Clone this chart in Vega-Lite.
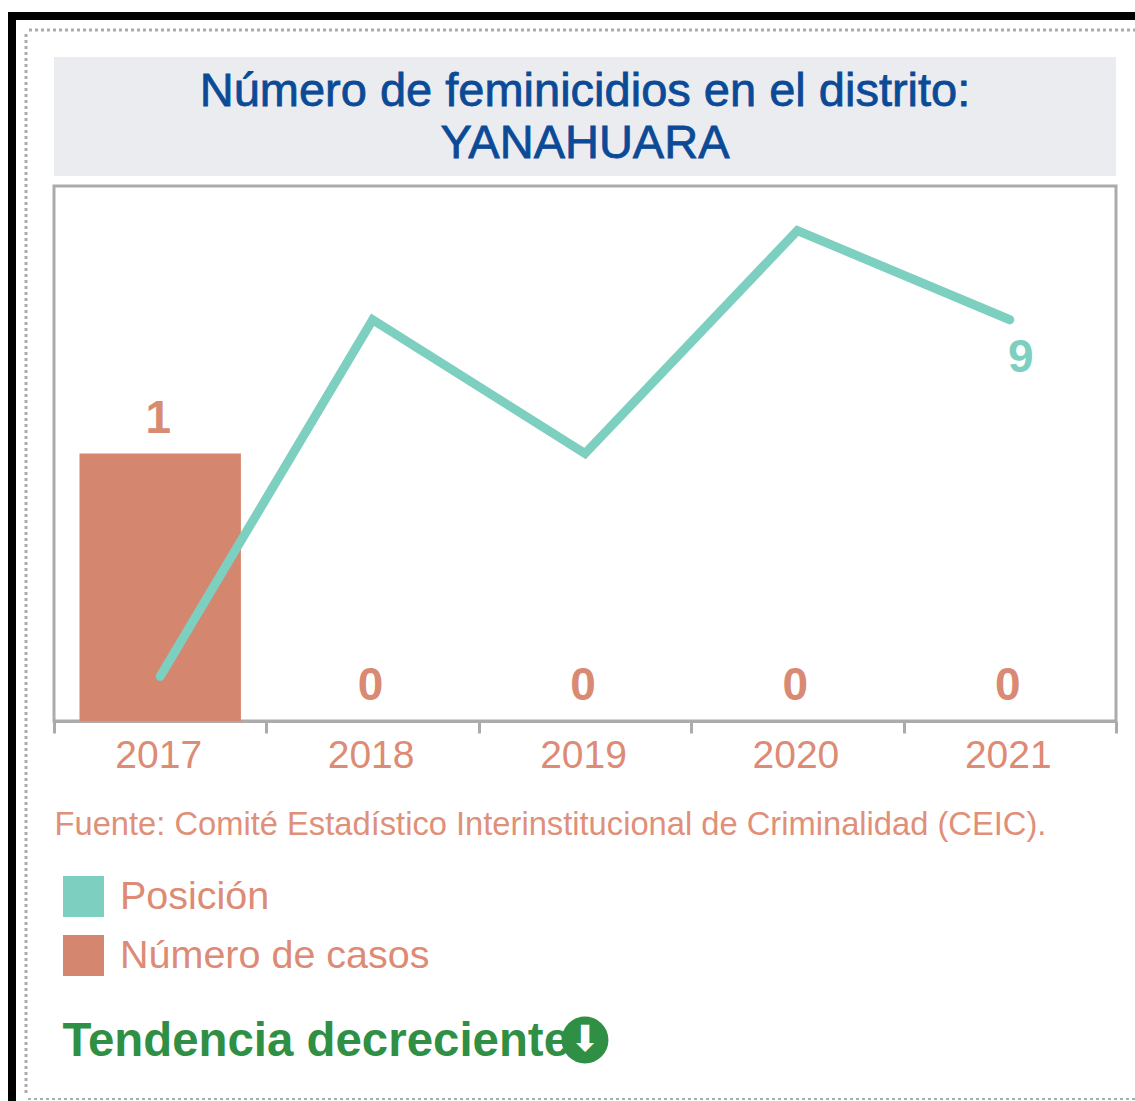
{"$schema":"https://vega.github.io/schema/vega-lite/v6.json","padding":{"left":8,"top":12,"right":0,"bottom":0},"background":"white","spacing":0,"config":{"view":{"stroke":null},"concat":{"spacing":0},"font":"Liberation Sans"},"datasets":{"anual":[{"anio":"2017","casos":1,"posicion":1},{"anio":"2018","casos":0,"posicion":9},{"anio":"2019","casos":0,"posicion":6},{"anio":"2020","casos":0,"posicion":11},{"anio":"2021","casos":0,"posicion":9}],"ultimo":[{"anio":"2021","posicion":9}],"one":[{"k":1}]},"vconcat":[{"width":1127,"height":8,"data":{"name":"one"},"mark":{"type":"text","text":"","fontSize":1},"encoding":{},"view":{"fill":"#000000","stroke":null}},{"spacing":0,"hconcat":[{"width":8,"height":1081,"data":{"name":"one"},"mark":{"type":"text","text":"","fontSize":1},"encoding":{},"view":{"fill":"#000000","stroke":null}},{"spacing":0,"vconcat":[{"width":10,"height":7.5,"data":{"name":"one"},"mark":{"type":"text","text":"","fontSize":1},"encoding":{}},{"spacing":0,"hconcat":[{"width":7.5,"height":1,"data":{"name":"one"},"mark":{"type":"text","text":"","fontSize":1},"encoding":{}},{"width":1110,"height":1,"data":{"name":"one"},"mark":{"type":"rule","stroke":"#ababab","strokeWidth":3,"strokeDash":[3,3]},"encoding":{"y":{"datum":0,"axis":null}}}]},{"spacing":0,"hconcat":[{"width":7.5,"height":10,"data":{"name":"one"},"mark":{"type":"text","text":"","fontSize":1},"encoding":{}},{"width":1,"height":1062,"data":{"name":"one"},"mark":{"type":"rule","stroke":"#ababab","strokeWidth":3,"strokeDash":[3,3]},"encoding":{"x":{"datum":0,"axis":null}}},{"width":22.5,"height":10,"data":{"name":"one"},"mark":{"type":"text","text":"","fontSize":1},"encoding":{}},{"spacing":0,"vconcat":[{"width":10,"height":22.5,"data":{"name":"one"},"mark":{"type":"text","text":"","fontSize":1},"encoding":{}},{"width":1062,"height":119,"view":{"fill":"#ebecf0","stroke":null},"data":{"name":"one"},"mark":{"type":"text","text":"Número de feminicidios en el distrito:\nYANAHUARA","lineBreak":"\n","lineHeight":52,"fontSize":47,"fill":"#0b4a96","stroke":"#0b4a96","strokeWidth":0.8,"align":"center","baseline":"middle","dy":-25},"encoding":{}},{"width":10,"height":8,"data":{"name":"one"},"mark":{"type":"text","text":"","fontSize":1},"encoding":{}},{"width":1062,"height":535,"view":{"stroke":"#ababab","strokeWidth":3},"data":{"name":"anual"},"encoding":{"x":{"field":"anio","type":"nominal","scale":{"paddingInner":0,"paddingOuter":0},"axis":{"labelAngle":0,"labelFontSize":39,"labelColor":"#dd8b74","labelPadding":3,"labelOffset":-2,"labelFont":"Liberation Sans","domainColor":"#ababab","domainWidth":3,"tickColor":"#ababab","tickWidth":3,"tickSize":12,"tickBand":"extent","title":"Fuente: Comité Estadístico Interinstitucional de Criminalidad (CEIC).","titleFontSize":32.7,"titleFontWeight":"normal","titleColor":"#e08f78","titleAnchor":"start","titleAlign":"left","titleBaseline":"alphabetic","titleX":0,"titleY":113,"titleLimit":1100}}},"layer":[{"layer":[{"mark":{"type":"bar","width":{"band":0.76}},"encoding":{"y":{"field":"casos","type":"quantitative","scale":{"domain":[0,2]},"axis":null},"color":{"datum":"Número de casos","scale":{"domain":["Posición","Número de casos"],"range":["#7dcfbf","#d5866e"]},"legend":{"orient":"none","legendX":55,"legendY":864,"title":null,"padding":0,"symbolType":"square","symbolSize":1681,"symbolStrokeWidth":0,"symbolOpacity":1,"labelFontSize":39.5,"labelColor":"#dd8b74","labelOffset":16,"rowPadding":18,"labelFont":"Liberation Sans","labelLimit":600}}}},{"mark":{"type":"text","fontSize":46,"fontWeight":"bold","fill":"#d98a73","baseline":"alphabetic","dx":-2,"dy":-21},"encoding":{"y":{"field":"casos","type":"quantitative","scale":{"domain":[0,2]},"axis":null},"text":{"field":"casos","type":"quantitative"}}}]},{"layer":[{"mark":{"type":"line","strokeWidth":9,"strokeCap":"round"},"encoding":{"y":{"field":"posicion","type":"quantitative","scale":{"domain":[0,12]},"axis":null},"color":{"datum":"Posición"}}},{"data":{"name":"ultimo"},"mark":{"type":"text","fontSize":46,"fontWeight":"bold","fill":"#7dcfbf","dx":11,"dy":38},"encoding":{"y":{"field":"posicion","type":"quantitative","scale":{"domain":[0,12]},"axis":null},"text":{"field":"posicion","type":"quantitative"}}}]}],"resolve":{"scale":{"y":"independent"}}},{"width":10,"height":163,"data":{"name":"one"},"mark":{"type":"text","text":"","fontSize":1},"encoding":{}},{"width":1062,"height":68,"data":{"name":"one"},"layer":[{"mark":{"type":"text","text":"Tendencia decreciente","fontSize":47.4,"fontWeight":"bold","fill":"#2f8f45","align":"right","baseline":"middle","dx":-15,"dy":2},"encoding":{}},{"mark":{"type":"point","shape":"circle","filled":true,"size":2200,"opacity":1,"fill":"#2f8f45"},"encoding":{}},{"mark":{"type":"text","text":"⬇","font":"DejaVu Sans","fontSize":36,"fill":"white","align":"center","baseline":"middle"},"encoding":{}}]}]}]},{"spacing":0,"hconcat":[{"width":7.5,"height":1,"data":{"name":"one"},"mark":{"type":"text","text":"","fontSize":1},"encoding":{}},{"width":1110,"height":1,"data":{"name":"one"},"mark":{"type":"rule","stroke":"#ababab","strokeWidth":2,"strokeDash":[3,3]},"encoding":{"y":{"datum":0,"axis":null}}}]}]}]}]}
